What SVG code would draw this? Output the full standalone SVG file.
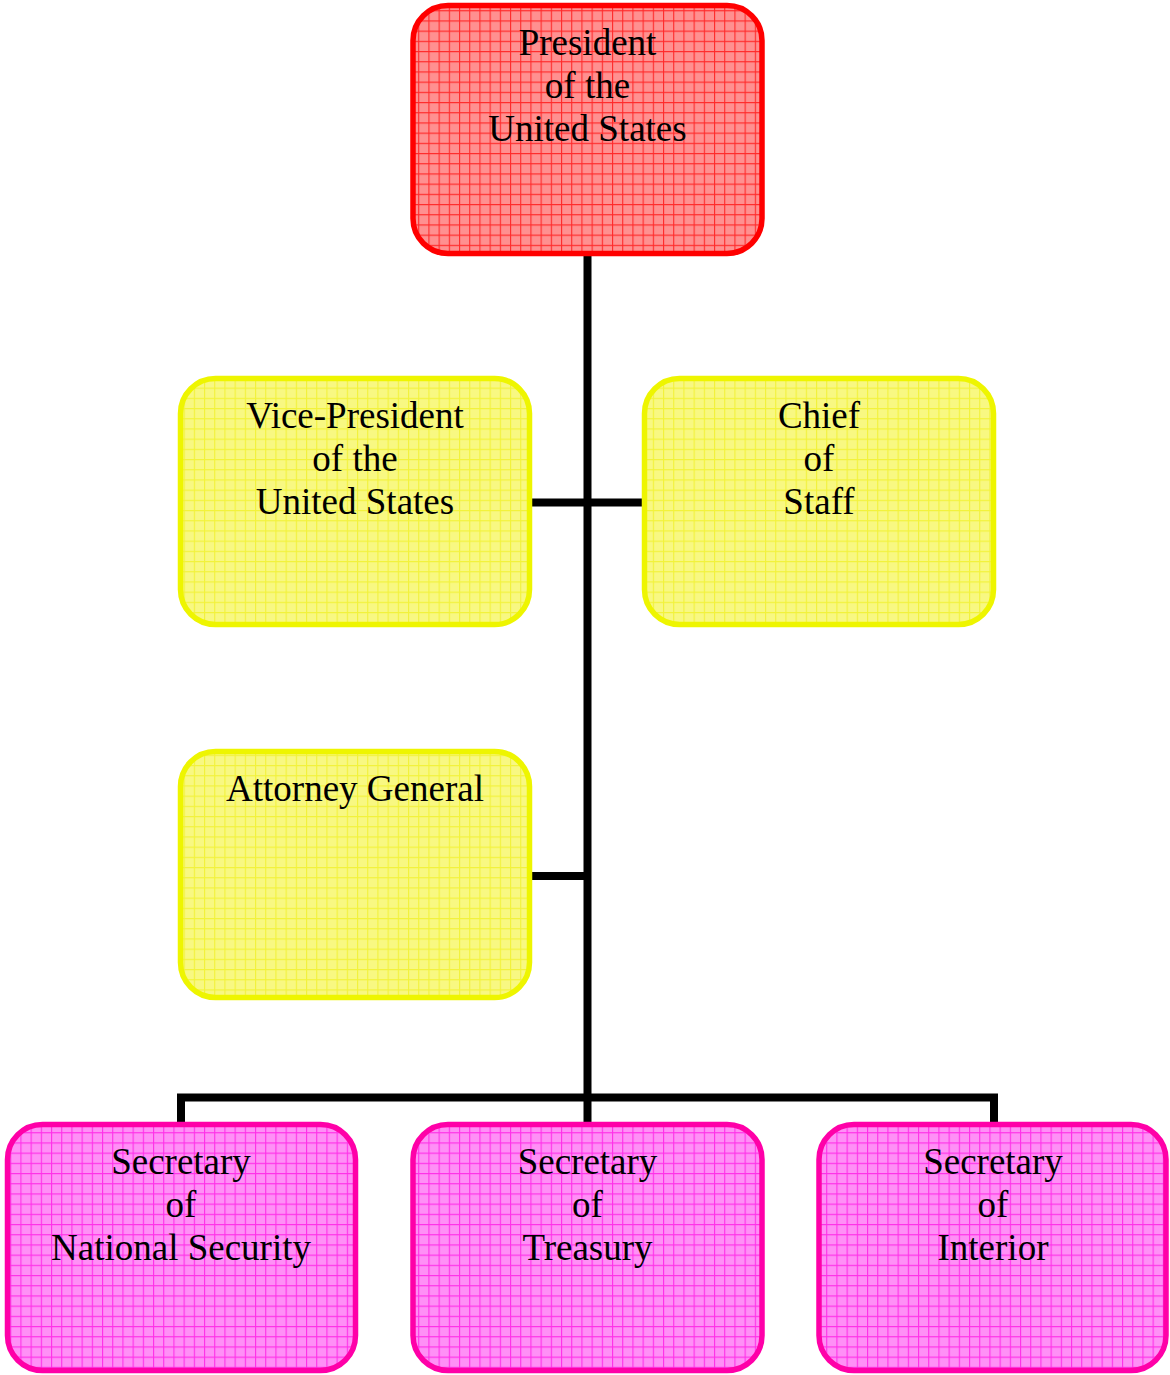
<svg xmlns="http://www.w3.org/2000/svg" width="1170" height="1375" viewBox="0 0 1170 1375">
<style>
.box{stroke-width:5.5}
.red{fill:url(#gridRed);stroke:#ff0000}
.yel{fill:url(#gridYel);stroke:#eef500}
.pnk{fill:url(#gridPnk);stroke:#ff00a8}
text{font-family:"Liberation Serif","Times New Roman",serif;font-size:37px;fill:#000;text-anchor:middle}
.conn{fill:none;stroke:#000;stroke-width:8;stroke-linejoin:miter;stroke-linecap:butt}
</style>
<defs>
<pattern id="gridRed" patternUnits="userSpaceOnUse" width="10.2" height="10.2">
<rect width="10.2" height="10.2" fill="#ff9090"/>
<path d="M0 0.5H10.2M0.5 0V10.2" stroke="#ff2a2a" stroke-width="1.2"/>
</pattern>
<pattern id="gridYel" patternUnits="userSpaceOnUse" width="10.2" height="10.2">
<rect width="10.2" height="10.2" fill="#f8f882"/>
<path d="M0 0.5H10.2M0.5 0V10.2" stroke="#f2f23a" stroke-width="1.2"/>
</pattern>
<pattern id="gridPnk" patternUnits="userSpaceOnUse" width="10.2" height="10.2">
<rect width="10.2" height="10.2" fill="#ff90f6"/>
<path d="M0 0.5H10.2M0.5 0V10.2" stroke="#ff30e8" stroke-width="1.2"/>
</pattern>
</defs>
<g id="connectors">
<path class="conn" d="M587.5 254V1122"/>
<path class="conn" d="M530 502.5H645"/>
<path class="conn" d="M530 876H587.5"/>
<path class="conn" d="M181 1122V1097.5H994V1122"/>
</g>
<g id="president">
<rect class="box red" x="413" y="5.5" width="349" height="248" rx="35"/>
<text x="587.5" y="55">President</text>
<text x="587.5" y="98">of the</text>
<text x="587.5" y="141">United States</text>
</g>
<g id="vice-president">
<rect class="box yel" x="180.5" y="378.5" width="349" height="246" rx="35"/>
<text x="355" y="428">Vice-President</text>
<text x="355" y="471">of the</text>
<text x="355" y="514">United States</text>
</g>
<g id="chief-of-staff">
<rect class="box yel" x="644.5" y="378.5" width="349" height="246" rx="35"/>
<text x="819" y="428">Chief</text>
<text x="819" y="471">of</text>
<text x="819" y="514">Staff</text>
</g>
<g id="attorney-general">
<rect class="box yel" x="180.5" y="751.5" width="349" height="246" rx="35"/>
<text x="355" y="801">Attorney General</text>
</g>
<g id="sec-national-security">
<rect class="box pnk" x="7.5" y="1124.5" width="348" height="246" rx="35"/>
<text x="181" y="1174">Secretary</text>
<text x="181" y="1217">of</text>
<text x="181" y="1260">National Security</text>
</g>
<g id="sec-treasury">
<rect class="box pnk" x="413" y="1124.5" width="349" height="246" rx="35"/>
<text x="587.5" y="1174">Secretary</text>
<text x="587.5" y="1217">of</text>
<text x="587.5" y="1260">Treasury</text>
</g>
<g id="sec-interior">
<rect class="box pnk" x="819" y="1124.5" width="347" height="246" rx="35"/>
<text x="993" y="1174">Secretary</text>
<text x="993" y="1217">of</text>
<text x="993" y="1260">Interior</text>
</g>
</svg>
